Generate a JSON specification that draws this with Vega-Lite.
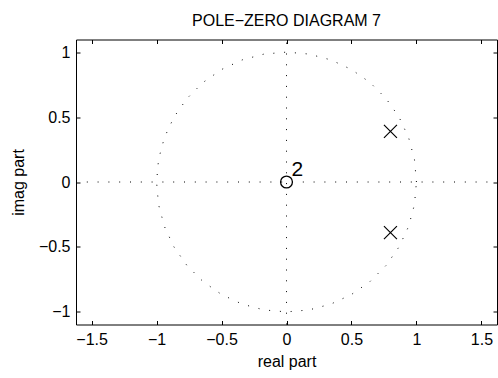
{
  "$schema": "https://vega.github.io/schema/vega-lite/v6.json",
  "width": 421,
  "height": 285,
  "autosize": "none",
  "padding": {"left": 76, "top": 39.5, "right": 1, "bottom": 53},
  "background": "white",
  "title": {"text": "POLE−ZERO DIAGRAM 7", "fontSize": 16, "font": "Liberation Sans", "fontWeight": "normal", "color": "black", "offset": 10},
  "config": {
    "view": {"stroke": "black", "strokeWidth": 1},
    "axis": {"grid": false, "domain": false, "tickColor": "black", "tickSize": -4, "format": "~g", "labelFont": "Liberation Sans", "labelFontSize": 16, "labelColor": "black", "titleFont": "Liberation Sans", "titleFontSize": 16, "titleFontWeight": "normal", "titleColor": "black"}
  },
  "layer": [
    {
      "data": {"values": [
        {"x1": -1.62, "x2": 1.62, "y1": 0, "y2": 0},
        {"x1": 0, "x2": 0, "y1": -1.097, "y2": 1.097}
      ]},
      "mark": {"type": "rule", "stroke": "black", "strokeWidth": 1, "strokeDash": [1, 9.8]},
      "encoding": {
        "x": {"field": "x1", "type": "quantitative", "scale": {"domain": [-1.62, 1.62], "nice": false, "zero": false},
              "axis": {"orient": "bottom", "values": [-1.5, -1, -0.5, 0, 0.5, 1, 1.5], "title": "real part", "labelPadding": 11, "titlePadding": 6}},
        "x2": {"field": "x2"},
        "y": {"field": "y1", "type": "quantitative", "scale": {"domain": [-1.097, 1.097], "nice": false, "zero": false},
              "axis": {"orient": "left", "values": [-1, -0.5, 0, 0.5, 1], "title": "imag part", "labelPadding": 10, "titlePadding": 12}},
        "y2": {"field": "y2"}
      }
    },
    {
      "data": {"values": [
        {"a": 0, "re": 1, "im": 0},
        {"a": 10, "re": 0.9848, "im": 0.1736},
        {"a": 20, "re": 0.9397, "im": 0.342},
        {"a": 30, "re": 0.866, "im": 0.5},
        {"a": 40, "re": 0.766, "im": 0.6428},
        {"a": 50, "re": 0.6428, "im": 0.766},
        {"a": 60, "re": 0.5, "im": 0.866},
        {"a": 70, "re": 0.342, "im": 0.9397},
        {"a": 80, "re": 0.1736, "im": 0.9848},
        {"a": 90, "re": 0, "im": 1},
        {"a": 100, "re": -0.1736, "im": 0.9848},
        {"a": 110, "re": -0.342, "im": 0.9397},
        {"a": 120, "re": -0.5, "im": 0.866},
        {"a": 130, "re": -0.6428, "im": 0.766},
        {"a": 140, "re": -0.766, "im": 0.6428},
        {"a": 150, "re": -0.866, "im": 0.5},
        {"a": 160, "re": -0.9397, "im": 0.342},
        {"a": 170, "re": -0.9848, "im": 0.1736},
        {"a": 180, "re": -1, "im": 0},
        {"a": 190, "re": -0.9848, "im": -0.1736},
        {"a": 200, "re": -0.9397, "im": -0.342},
        {"a": 210, "re": -0.866, "im": -0.5},
        {"a": 220, "re": -0.766, "im": -0.6428},
        {"a": 230, "re": -0.6428, "im": -0.766},
        {"a": 240, "re": -0.5, "im": -0.866},
        {"a": 250, "re": -0.342, "im": -0.9397},
        {"a": 260, "re": -0.1736, "im": -0.9848},
        {"a": 270, "re": 0, "im": -1},
        {"a": 280, "re": 0.1736, "im": -0.9848},
        {"a": 290, "re": 0.342, "im": -0.9397},
        {"a": 300, "re": 0.5, "im": -0.866},
        {"a": 310, "re": 0.6428, "im": -0.766},
        {"a": 320, "re": 0.766, "im": -0.6428},
        {"a": 330, "re": 0.866, "im": -0.5},
        {"a": 340, "re": 0.9397, "im": -0.342},
        {"a": 350, "re": 0.9848, "im": -0.1736},
        {"a": 360, "re": 1, "im": 0}
      ]},
      "mark": {"type": "line", "stroke": "black", "strokeWidth": 1, "strokeDash": [1, 9.8]},
      "encoding": {
        "x": {"field": "re", "type": "quantitative", "axis": {"orient": "top", "values": [-1.5, -1, -0.5, 0, 0.5, 1, 1.5], "labels": false, "title": null}},
        "y": {"field": "im", "type": "quantitative", "axis": {"orient": "right", "values": [-1, -0.5, 0, 0.5, 1], "labels": false, "title": null}},
        "order": {"field": "a", "type": "quantitative"}
      }
    },
    {
      "data": {"values": [{"re": 0, "im": 0, "label": "2"}]},
      "layer": [
        {
          "mark": {"type": "point", "shape": "circle", "filled": false, "stroke": "black", "strokeWidth": 1.3, "size": 140, "opacity": 1},
          "encoding": {
            "x": {"field": "re", "type": "quantitative", "axis": null},
            "y": {"field": "im", "type": "quantitative", "axis": null}
          }
        },
        {
          "mark": {"type": "text", "font": "Liberation Sans", "fontSize": 21, "align": "left", "baseline": "alphabetic", "dx": 5, "dy": -6, "color": "black"},
          "encoding": {
            "x": {"field": "re", "type": "quantitative", "axis": null},
            "y": {"field": "im", "type": "quantitative", "axis": null},
            "text": {"field": "label"}
          }
        }
      ]
    },
    {
      "data": {"values": [{"re": 0.8, "im": 0.39}, {"re": 0.8, "im": -0.39}]},
      "mark": {"type": "point", "shape": "M-1,-1L1,1M-1,1L1,-1", "filled": false, "stroke": "black", "strokeWidth": 1.2, "size": 169, "opacity": 1},
      "encoding": {
        "x": {"field": "re", "type": "quantitative", "axis": null},
        "y": {"field": "im", "type": "quantitative", "axis": null}
      }
    }
  ],
  "resolve": {"axis": {"x": "independent", "y": "independent"}}
}
